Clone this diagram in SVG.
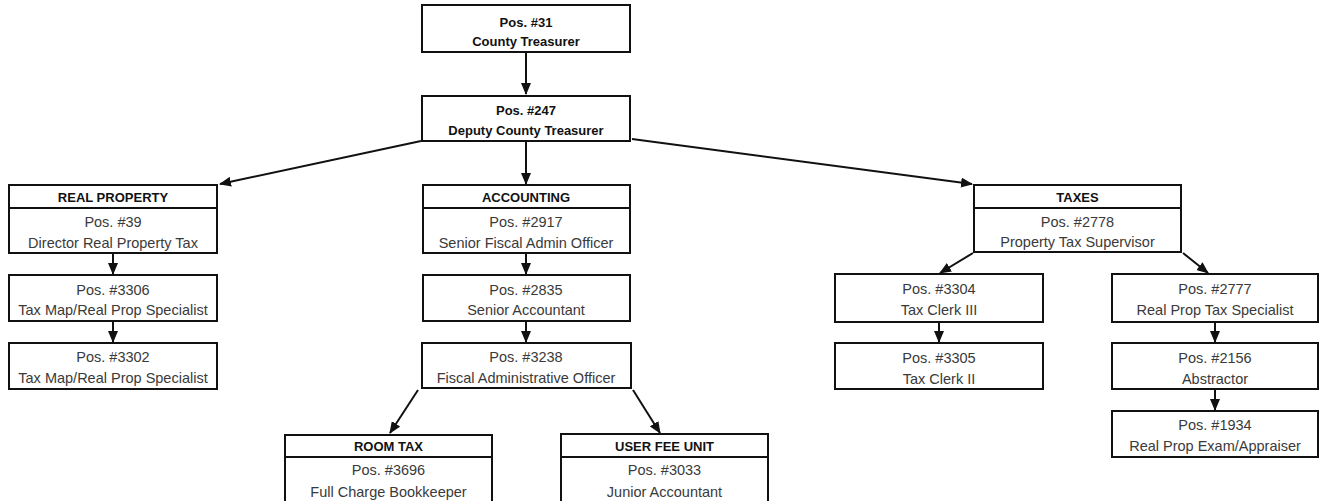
<svg xmlns="http://www.w3.org/2000/svg" width="1319" height="501" viewBox="0 0 1319 501">
<style>
.box{fill:#fff;stroke:#111;stroke-width:2}
.div{stroke:#111;stroke-width:2}
.t{font-family:"Liberation Sans",Arial,sans-serif;font-size:14.5px;fill:#3a3a3a;text-anchor:middle}
.b{font-family:"Liberation Sans",Arial,sans-serif;font-size:13px;font-weight:bold;fill:#111;text-anchor:middle}
.c{stroke:#111;stroke-width:2;fill:none;marker-end:url(#ah)}
</style>
<defs>
<marker id="ah" markerUnits="userSpaceOnUse" markerWidth="12" markerHeight="10" refX="11" refY="5" orient="auto">
<path d="M0,0 L12,5 L0,10 Z" fill="#111"/>
</marker>
</defs>
<rect width="1319" height="501" fill="#fff"/>
<g id="connectors">
<line class="c" x1="526" y1="52" x2="526" y2="94"/>
<line class="c" x1="526" y1="141" x2="526" y2="184"/>
<line class="c" x1="421" y1="141" x2="220" y2="184"/>
<line class="c" x1="632" y1="139" x2="972" y2="184"/>
<line class="c" x1="113" y1="253" x2="113" y2="274"/>
<line class="c" x1="113" y1="320" x2="113" y2="342"/>
<line class="c" x1="526" y1="253" x2="526" y2="274"/>
<line class="c" x1="526" y1="321" x2="526" y2="342"/>
<line class="c" x1="418" y1="390" x2="390" y2="433"/>
<line class="c" x1="633" y1="390" x2="660" y2="433"/>
<line class="c" x1="973" y1="253" x2="940" y2="273"/>
<line class="c" x1="1183" y1="253" x2="1208" y2="273"/>
<line class="c" x1="939" y1="322" x2="939" y2="342"/>
<line class="c" x1="1215" y1="322" x2="1215" y2="342"/>
<line class="c" x1="1215" y1="389" x2="1215" y2="410"/>
</g>
<g id="n31">
<rect class="box" x="422" y="5" width="208" height="47"/>
<text class="b" x="526" y="27">Pos. #31</text>
<text class="b" x="526" y="46">County Treasurer</text>
</g>
<g id="n247">
<rect class="box" x="422" y="96" width="208" height="45"/>
<text class="b" x="526" y="115">Pos. #247</text>
<text class="b" x="526" y="135">Deputy County Treasurer</text>
</g>
<g id="n39">
<rect class="box" x="9" y="185" width="208" height="68"/>
<line class="div" x1="9" y1="208" x2="217" y2="208"/>
<text class="b" x="113" y="202">REAL PROPERTY</text>
<text class="t" x="113" y="227">Pos. #39</text>
<text class="t" x="113" y="248">Director Real Property Tax</text>
</g>
<g id="n3306">
<rect class="box" x="9" y="275" width="208" height="46"/>
<text class="t" x="113" y="295">Pos. #3306</text>
<text class="t" x="113" y="315">Tax Map/Real Prop Specialist</text>
</g>
<g id="n3302">
<rect class="box" x="9" y="343" width="208" height="46"/>
<text class="t" x="113" y="362">Pos. #3302</text>
<text class="t" x="113" y="383">Tax Map/Real Prop Specialist</text>
</g>
<g id="n2917">
<rect class="box" x="423" y="185" width="207" height="68"/>
<line class="div" x1="423" y1="208" x2="630" y2="208"/>
<text class="b" x="526" y="202">ACCOUNTING</text>
<text class="t" x="526" y="227">Pos. #2917</text>
<text class="t" x="526" y="248">Senior Fiscal Admin Officer</text>
</g>
<g id="n2835">
<rect class="box" x="423" y="275" width="207" height="46"/>
<text class="t" x="526" y="295">Pos. #2835</text>
<text class="t" x="526" y="315">Senior Accountant</text>
</g>
<g id="n3238">
<rect class="box" x="422" y="343" width="209" height="45"/>
<text class="t" x="526" y="362">Pos. #3238</text>
<text class="t" x="526" y="383">Fiscal Administrative Officer</text>
</g>
<g id="n3696">
<rect class="box" x="285" y="435" width="207" height="70"/>
<line class="div" x1="285" y1="457" x2="492" y2="457"/>
<text class="b" x="388.5" y="451">ROOM TAX</text>
<text class="t" x="388.5" y="475">Pos. #3696</text>
<text class="t" x="388.5" y="497">Full Charge Bookkeeper</text>
</g>
<g id="n3033">
<rect class="box" x="561" y="434" width="207" height="71"/>
<line class="div" x1="561" y1="457" x2="768" y2="457"/>
<text class="b" x="664.5" y="451">USER FEE UNIT</text>
<text class="t" x="664.5" y="475">Pos. #3033</text>
<text class="t" x="664.5" y="497">Junior Accountant</text>
</g>
<g id="n2778">
<rect class="box" x="974" y="185" width="207" height="67"/>
<line class="div" x1="974" y1="208" x2="1181" y2="208"/>
<text class="b" x="1077.5" y="202">TAXES</text>
<text class="t" x="1077.5" y="227">Pos. #2778</text>
<text class="t" x="1077.5" y="247">Property Tax Supervisor</text>
</g>
<g id="n3304">
<rect class="box" x="835" y="274" width="208" height="48"/>
<text class="t" x="939" y="294">Pos. #3304</text>
<text class="t" x="939" y="315">Tax Clerk III</text>
</g>
<g id="n3305">
<rect class="box" x="835" y="343" width="208" height="46"/>
<text class="t" x="939" y="363">Pos. #3305</text>
<text class="t" x="939" y="384">Tax Clerk II</text>
</g>
<g id="n2777">
<rect class="box" x="1112" y="274" width="206" height="48"/>
<text class="t" x="1215" y="294">Pos. #2777</text>
<text class="t" x="1215" y="315">Real Prop Tax Specialist</text>
</g>
<g id="n2156">
<rect class="box" x="1112" y="343" width="206" height="46"/>
<text class="t" x="1215" y="363">Pos. #2156</text>
<text class="t" x="1215" y="384">Abstractor</text>
</g>
<g id="n1934">
<rect class="box" x="1112" y="411" width="206" height="46"/>
<text class="t" x="1215" y="430">Pos. #1934</text>
<text class="t" x="1215" y="451">Real Prop Exam/Appraiser</text>
</g>
</svg>
